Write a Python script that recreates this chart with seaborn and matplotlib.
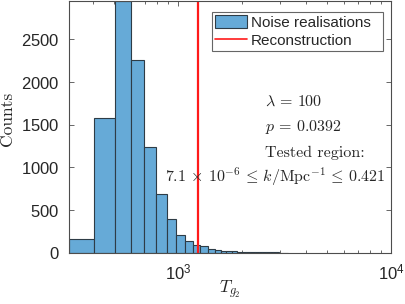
"""Noise realisations histogram vs. reconstruction statistic."""
import matplotlib
matplotlib.use("Agg")

import matplotlib.pyplot as plt
from matplotlib.patches import Patch
from matplotlib.lines import Line2D
import seaborn as sns

OUT_PNG = "out.png"
DPI = 100
FIG_SIZE = (4.05, 3.04)

# histogram bins (T_g2) and counts per bin
BIN_EDGES = [309, 405, 505, 600, 692, 793, 890, 980, 1080, 1175, 1275,
             1383, 1486, 1587, 1688, 1790, 1890, 1990, 2090, 2190, 2290,
             2390, 2490, 2590, 2690, 2790, 2890, 2990, 3090, 3190, 3290]
BIN_COUNTS = [160, 1575, 2950, 2255, 1235, 685, 392, 211, 133, 85,
              82, 43, 31, 24, 20, 15, 12, 10, 9, 8,
              7, 6, 5, 4, 4, 3, 3, 2, 2, 1]

RECONSTRUCTION = 1240
X_LIMITS = (309, 10000)
Y_LIMITS = (0, 2950)
Y_TICKS = [0, 500, 1000, 1500, 2000, 2500]

LAMBDA_TEXT = r"$\lambda\,=\,100$"
P_TEXT = r"$p\,=\,0.0392$"
TESTED_TEXT = "Tested region:"
REGION_TEXT = r"$7.1\,\times\,10^{-6}\,\leq\,k/\mathrm{Mpc}^{-1}\,\leq\,0.421$"
LEGEND_LABELS = ["Noise realisations", "Reconstruction"]

BAR_COLOR = "#66aad7"
EDGE_COLOR = "#2e3c46"
LINE_COLOR = "#ff1a1a"
AXIS_COLOR = "0.3"
SERIF = ["cmr10", "DejaVu Serif"]


def plot_histogram() -> None:
    sns.set_style("white")
    plt.rcParams["font.family"] = ["Liberation Sans", "DejaVu Sans"]
    plt.rcParams["mathtext.fontset"] = "cm"
    plt.rcParams["axes.formatter.use_mathtext"] = True

    fig = plt.figure(figsize=FIG_SIZE, dpi=DPI)
    ax = fig.add_axes([0.1711, 0.1688, 0.7943, 0.828])

    sns.histplot(x=BIN_EDGES[:-1], weights=BIN_COUNTS, bins=BIN_EDGES, ax=ax,
                 color=BAR_COLOR, alpha=1.0, edgecolor=EDGE_COLOR, linewidth=0.8)
    ax.axvline(RECONSTRUCTION, color=LINE_COLOR, linewidth=1.6)

    ax.set_xscale("log")
    ax.set_xlim(*X_LIMITS)
    ax.set_ylim(*Y_LIMITS)
    ax.set_yticks(Y_TICKS)

    for side in ["left", "right", "top", "bottom"]:
        ax.spines[side].set_visible(True)
        ax.spines[side].set_color(AXIS_COLOR)
        ax.spines[side].set_linewidth(0.8)
    ax.tick_params(which="major", direction="in", length=3.5, width=0.6,
                   color=AXIS_COLOR, top=True, right=True, bottom=True, left=True,
                   labelsize=12, labelcolor="0.15", pad=7)
    ax.tick_params(axis="x", which="minor", direction="in", length=2.2, width=0.6,
                   color=AXIS_COLOR, top=True, bottom=True)

    ax.set_ylabel("Counts", fontsize=12.5, color="0.15", family=SERIF)
    ax.yaxis.set_label_coords(-0.17, 0.53)
    ax.set_xlabel(r"$T_{g_2}$", fontsize=12.5, color="0.15")
    ax.xaxis.set_label_coords(0.5, -0.105)

    ax.text(0.609, 0.583, LAMBDA_TEXT, transform=ax.transAxes, fontsize=11.5,
            ha="left", va="baseline")
    ax.text(0.609, 0.4835, P_TEXT, transform=ax.transAxes, fontsize=11.5,
            ha="left", va="baseline")
    ax.text(0.609, 0.382, TESTED_TEXT, transform=ax.transAxes, fontsize=11.5,
            ha="left", va="baseline", family=SERIF)
    ax.text(0.64, 0.281, REGION_TEXT, transform=ax.transAxes, fontsize=11.5,
            ha="center", va="baseline")

    handles = [Patch(facecolor=BAR_COLOR, edgecolor=EDGE_COLOR, linewidth=0.8),
               Line2D([], [], color=LINE_COLOR, linewidth=1.2)]
    leg = ax.legend(handles, LEGEND_LABELS, loc="upper left", mode="expand",
                    bbox_to_anchor=(0.443, 0.8025, 0.533, 0.1545),
                    fontsize=11, frameon=True, fancybox=False, framealpha=1,
                    edgecolor="0.4", borderpad=0.2, borderaxespad=0,
                    handlelength=2.1, handleheight=0.95, handletextpad=0.25,
                    labelspacing=0.2)
    leg.get_frame().set_linewidth(0.8)

    fig.savefig(OUT_PNG, dpi=DPI)
    plt.close("all")


def main() -> None:
    plot_histogram()


if __name__ == "__main__":
    main()
